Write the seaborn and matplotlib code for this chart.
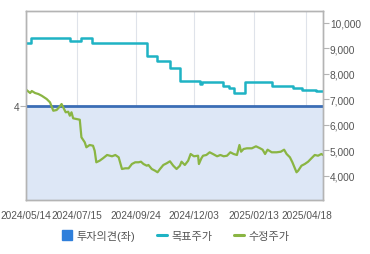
import matplotlib
matplotlib.use("Agg")
import numpy as np
import pandas as pd
import matplotlib.pyplot as plt
import seaborn as sns
from matplotlib.lines import Line2D

start = pd.Timestamp("2024-05-14")
end_day = 359

price_days = [0, 5, 7, 11, 15, 19, 25, 29, 33, 37, 40, 43, 45, 48, 51, 53, 55, 57, 61, 65,
              67, 71, 73, 77, 81, 83, 85, 89, 93, 98, 104, 108, 112, 116, 120, 124, 128, 132,
              136, 139, 142, 146, 148, 152, 156, 159, 162, 166, 170, 174, 178, 182, 186, 188,
              192, 196, 199, 203, 208, 209, 212, 214, 218, 222, 226, 231, 235, 239, 243, 247,
              251, 255, 258, 260, 263, 267, 273, 278, 283, 286, 289, 292, 297, 303, 308, 312,
              315, 319, 322, 325, 327, 329, 333, 337, 341, 345, 349, 353, 357, 359]
price_vals = [7370, 7235, 7314, 7235, 7196, 7129, 7000, 6871, 6541, 6569, 6675, 6804, 6675,
              6479, 6502, 6345, 6479, 6243, 6216, 6189, 5499, 5303, 5107, 5197, 5169, 4973,
              4519, 4581, 4675, 4805, 4754, 4805, 4715, 4256, 4283, 4283, 4452, 4519, 4519,
              4542, 4452, 4385, 4413, 4256, 4189, 4127, 4256, 4413, 4479, 4558, 4385, 4256,
              4385, 4542, 4413, 4581, 4844, 4754, 4777, 4450, 4675, 4777, 4805, 4911, 4844,
              4754, 4805, 4754, 4777, 4911, 4844, 4805, 5197, 4934, 5040, 5067, 5067, 5146,
              5067, 5013, 4844, 5013, 4911, 4911, 4934, 5013, 4844, 4715, 4519, 4283, 4127,
              4189, 4385, 4452, 4542, 4675, 4805, 4777, 4844, 4805]

target_days = [0, 6, 53, 66, 80, 146, 158, 174, 186, 210, 213, 238, 245, 251, 265, 297,
               323, 334, 351, 359]
target_vals = [9207, 9379, 9284, 9379, 9207, 8697, 8501, 8203, 7717, 7588, 7678, 7498, 7419,
               7235, 7655, 7510, 7431, 7365, 7325, 7325]

opinion_days = [0, 359]
opinion_vals = [4, 4]

tick_dates = ["2024-05-14", "2024-07-15", "2024-09-24", "2024-12-03", "2025-02-13", "2025-04-18"]
tick_labels = ["2024/05/14", "2024/07/15", "2024/09/24", "2024/12/03", "2025/02/13", "2025/04/18"]
right_ticks = [4000, 5000, 6000, 7000, 8000, 9000, 10000]
left_ticks = [4]

legend_labels = ["투자의견(좌)", "목표주가", "수정주가"]

c_op = "#3b6db5"
c_fill = "#dde7f6"
c_target = "#1fb3c4"
c_price = "#8ab543"
c_legend_sq = "#2f7fdb"
c_frame = "#b4b4b4"
c_text = "#555555"

sns.set_style("white")
plt.rcParams["font.family"] = ["Liberation Sans", "Noto Sans CJK KR", "DejaVu Sans"]

price_df = pd.DataFrame({"date": start + pd.to_timedelta(price_days, unit="D"), "value": price_vals})
target_df = pd.DataFrame({"date": start + pd.to_timedelta(target_days, unit="D"), "value": target_vals})
op_df = pd.DataFrame({"date": start + pd.to_timedelta(opinion_days, unit="D"), "value": opinion_vals})

fig = plt.figure(figsize=(3.7, 2.55), dpi=100)
ax = fig.add_axes([26 / 370, 1 - 201 / 255, (323 - 26) / 370, (201 - 12.3) / 255])
ax2 = ax.twinx()

ax.fill_between(op_df["date"], op_df["value"], 3, color=c_fill, lw=0, zorder=1)
sns.lineplot(data=op_df, x="date", y="value", ax=ax, color=c_op, lw=2, zorder=3)
sns.lineplot(data=target_df, x="date", y="value", ax=ax2, color=c_target, lw=1.8,
             drawstyle="steps-post")
sns.lineplot(data=price_df, x="date", y="value", ax=ax2, color=c_price, lw=1.6)

xmin, xmax = start, start + pd.Timedelta(days=end_day)
ax.set_xlim(xmin, xmax)
ax.set_ylim(3, 5)
ax2.set_ylim(3040, 10440)

ax.set_xticks(pd.to_datetime(tick_dates))
ax.set_xticklabels(tick_labels)
ax.set_yticks(left_ticks)
ax.set_yticklabels([str(v) for v in left_ticks])
ax2.set_yticks(right_ticks)
ax2.set_yticklabels([f"{v:,}" for v in right_ticks])

for a in (ax, ax2):
    a.set_xlabel("")
    a.set_ylabel("")
    for s in a.spines.values():
        s.set_color(c_frame)
        s.set_linewidth(1)
    a.tick_params(axis="both", direction="out", length=4, width=0.8, color=c_frame,
                  labelcolor=c_text, labelsize=7.3, pad=1)
ax.tick_params(axis="x", pad=3)

ax.grid(axis="x", color="#dfe3ea", lw=0.8)
ax.set_axisbelow(True)
ax.set_zorder(0)
ax2.set_zorder(1)
ax2.patch.set_visible(False)

handles = [
    Line2D([], [], marker="s", color=c_legend_sq, ls="none", markersize=7),
    Line2D([], [], color=c_target, lw=2.2),
    Line2D([], [], color=c_price, lw=2.2),
]
leg = fig.legend(handles, legend_labels, loc="center", bbox_to_anchor=(0.475, 0.074), ncol=3,
                 frameon=False, fontsize=8, handlelength=0.9, handletextpad=0.35,
                 columnspacing=2.0)
for t in leg.get_texts():
    t.set_color(c_text)

fig.savefig("out.png", dpi=100)
